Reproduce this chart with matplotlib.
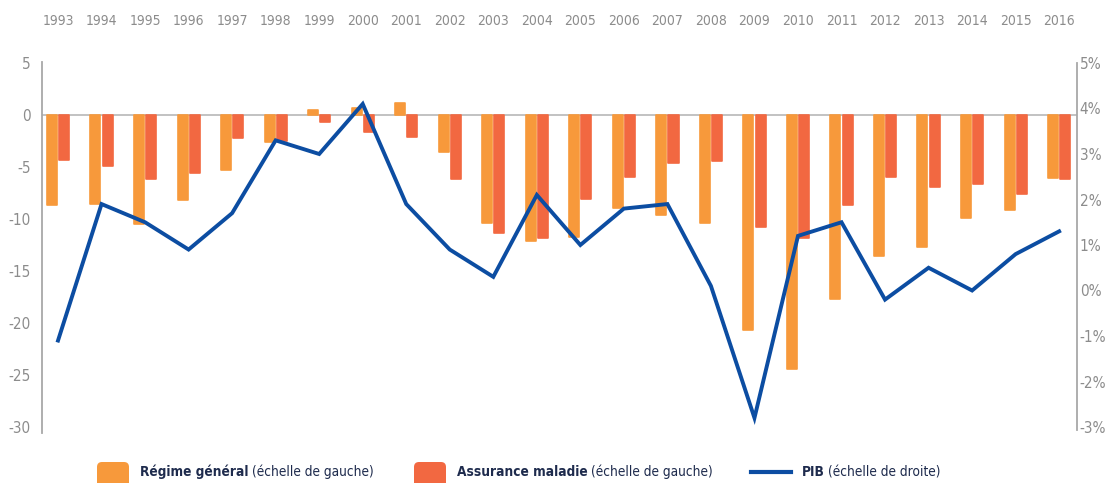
import numpy as np
import matplotlib
matplotlib.use("Agg")
import matplotlib.pyplot as plt
from matplotlib.patches import FancyBboxPatch
from matplotlib.lines import Line2D
from matplotlib.transforms import IdentityTransform

plt.rcParams['font.family'] = ['DejaVu Sans']
plt.rcParams['font.stretch'] = 'condensed'
plt.rcParams['axes.unicode_minus'] = False

years = np.arange(1993, 2017)
regime_general = [-8.7, -8.6, -10.5, -8.2, -5.3, -2.6, 0.5, 0.7, 1.2, -3.6, -10.4, -12.1,
                  -11.7, -8.9, -9.6, -10.4, -20.7, -24.4, -17.7, -13.6, -12.7, -9.9, -9.1, -6.1]
assurance_maladie = [-4.3, -4.9, -6.2, -5.6, -2.2, -2.5, -0.7, -1.6, -2.1, -6.2, -11.3, -11.8,
                     -8.1, -6.0, -4.6, -4.4, -10.8, -11.8, -8.7, -6.0, -6.9, -6.6, -7.6, -6.2]
pib = [-1.1, 1.9, 1.5, 0.9, 1.7, 3.3, 3.0, 4.1, 1.9, 0.9, 0.3, 2.1,
       1.0, 1.8, 1.9, 0.1, -2.8, 1.2, 1.5, -0.2, 0.5, 0.0, 0.8, 1.3]

c_rg = '#F7993B'
c_am = '#F26841'
c_pib = '#0C4DA2'
c_tick = '#8C8C8C'
c_axis = '#A8A8A8'
c_leg = '#1E2B4D'

W, H = 1109, 483
fig = plt.figure(figsize=(W / 100, H / 100), dpi=100)
ax = fig.add_axes([42 / W, 1 - 427 / H, 1035 / W, 364 / H])
ax2 = ax.twinx()

bw = 0.23
off = 0.14
for xs, vals, col in [(years - off, regime_general, c_rg), (years + off, assurance_maladie, c_am)]:
    bars = ax.bar(xs, vals, width=bw, color=col, edgecolor=col, linewidth=1.2, zorder=2)
    for b in bars:
        b.set_joinstyle('round')

ax.axhline(0, color='#BDBDBD', linewidth=1.3, zorder=1)

ax2.plot(years, pib, color=c_pib, linewidth=2.8, solid_joinstyle='miter', zorder=3)

ax.set_xlim(1992.632, 2016.41)
ax.set_ylim(-30, 5)
ax.set_yticks(np.arange(-30, 6, 5))
ax2.set_ylim(-3, 5)
ax2.set_yticks(np.arange(-3, 6, 1))
ax2.set_yticklabels([f'{v}%' for v in range(-3, 6)])

ax.set_xticks(years)
ax.set_xticklabels([str(y) for y in years])
ax.xaxis.tick_top()
ax.tick_params(axis='x', length=0, pad=25, labelsize=10, labelcolor=c_tick)
ax.tick_params(axis='y', length=0, pad=8, labelsize=11, labelcolor=c_tick)
ax2.tick_params(axis='y', length=0, pad=2, labelsize=11, labelcolor=c_tick)

for a in (ax, ax2):
    for s in ('top', 'bottom'):
        a.spines[s].set_visible(False)
    a.spines['left'].set_color(c_axis)
    a.spines['right'].set_color(c_axis)
    a.spines['left'].set_linewidth(1.3)
    a.spines['right'].set_linewidth(1.3)
ax2.spines['left'].set_visible(False)
ax.spines['right'].set_visible(False)
ax.spines['left'].set_bounds(-30.6, 5.1)
ax2.spines['right'].set_bounds(-3.06, 5.01)

# legend drawn by hand: bold series name followed by the scale note
renderer = fig.canvas.get_renderer()
leg_y = 11  # pixels from the bottom edge
leg_size = 9.8


def legend_text(x, bold, normal):
    t = fig.text(x / W, leg_y / H, bold, fontsize=leg_size, fontweight='bold', color=c_leg,
                 va='center', ha='left')
    bb = t.get_window_extent(renderer)
    fig.text((bb.x1 + 3) / W, leg_y / H, normal, fontsize=leg_size, color=c_leg,
             va='center', ha='left')


for x0, col in [(97, c_rg), (414, c_am)]:
    p = FancyBboxPatch((x0, -12), 32, 33, boxstyle='round,pad=0,rounding_size=5',
                       facecolor=col, edgecolor='none', transform=IdentityTransform())
    fig.patches.append(p)

fig.lines.append(Line2D([751, 791], [leg_y, leg_y], color=c_pib, linewidth=3,
                        transform=IdentityTransform()))

legend_text(140, 'Régime général', '(échelle de gauche)')
legend_text(457, 'Assurance maladie', '(échelle de gauche)')
legend_text(802, 'PIB', '(échelle de droite)')

fig.savefig('out.png', dpi=100)
